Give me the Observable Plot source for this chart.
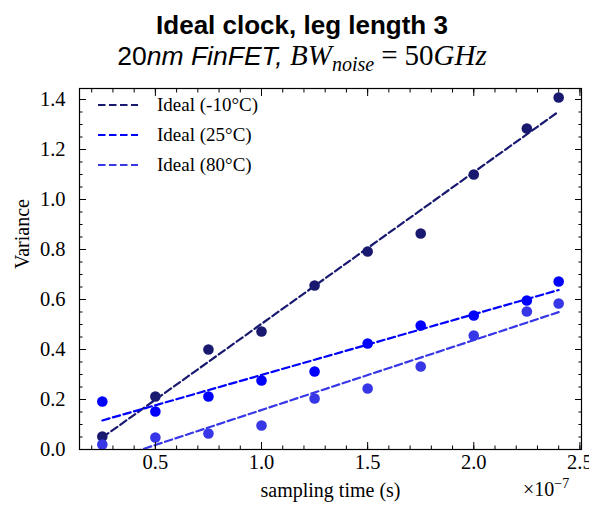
<!DOCTYPE html>
<html><head><meta charset="utf-8">
<script src="https://cdn.jsdelivr.net/npm/d3@7"></script>
<script src="https://cdn.jsdelivr.net/npm/@observablehq/plot@0.6"></script>
<style>
body{margin:0;background:#fff;}
#wrap{position:relative;width:589px;height:509px;overflow:hidden;background:#fff;}
.abs{position:absolute;white-space:nowrap;color:#000;}
#title{left:0;width:604px;text-align:center;top:12px;font:bold 26px/26px "Liberation Sans",Arial,sans-serif;}
#subtitle{left:0;width:604px;text-align:center;top:42px;font:26.5px/26px "Liberation Sans",Arial,sans-serif;}
.m{font-family:"Liberation Serif","Times New Roman",serif;font-size:29px;}
.eq{margin:0 7px;}
.leg{font:19px/20px "Liberation Serif","Times New Roman",serif;display:flex;align-items:center;}
</style></head><body><div id="wrap">
<div id="title" class="abs">Ideal clock, leg length 3</div>
<div id="subtitle" class="abs">20<i>nm FinFET,</i> <span class="m"><i>BW</i><sub style="font-size:20px;vertical-align:-6px;"><i>noise</i></sub><span class="eq">=</span>50<i>GHz</i></span></div>
<div id="offset" class="abs" style="left:523px;top:474px;font:20px/20px 'Liberation Serif',serif;">×10<sup style="font-size:14px;vertical-align:8px;">−7</sup></div>
<div id="legend"></div>
</div>
<script>
const seriesNames = ["Ideal (-10°C)", "Ideal (25°C)", "Ideal (80°C)"];
const seriesColors = ["#191970", "#0000ff", "#3737e8"];
const times = [0.25, 0.5, 0.75, 1.0, 1.25, 1.5, 1.75, 2.0, 2.25, 2.4];
const varM10 = [0.052, 0.212, 0.400, 0.472, 0.656, 0.792, 0.864, 1.100, 1.284, 1.408];
const var25  = [0.192, 0.152, 0.212, 0.276, 0.312, 0.424, 0.496, 0.536, 0.596, 0.672];
const var80  = [0.020, 0.048, 0.064, 0.096, 0.204, 0.244, 0.332, 0.456, 0.552, 0.584];
const xMajor = [0.5, 1.0, 1.5, 2.0, 2.5];
const yMajor = [0, 0.2, 0.4, 0.6, 0.8, 1.0, 1.2, 1.4];
const xMinor = d3.range(2, 26).map(d => d / 10);
const yMinor = d3.range(0, 29).map(d => d * 0.05);

const series = [varM10, var25, var80];
const data = [];
series.forEach((vals, i) => vals.forEach((v, j) => data.push({series: seriesNames[i], t: times[j], v})));

const blank = () => "";
const plot = Plot.plot({
  width: 589, height: 509,
  marginTop: 88, marginBottom: 60, marginLeft: 79, marginRight: 8,
  x: {domain: [0.1425, 2.5075]},
  y: {domain: [0, 1.444]},
  color: {domain: seriesNames, range: seriesColors},
  style: {fontFamily: "'Liberation Serif','Times New Roman',serif", fontSize: "20px", color: "black", background: "white"},
  marks: [
    Plot.linearRegressionY(data, {x: "t", y: "v", stroke: "series", ci: 0, strokeWidth: 2.2, strokeDasharray: "7.5,3.5", clip: true}),
    Plot.dot(data, {x: "t", y: "v", fill: "series", r: 5.3}),
    Plot.axisX(xMajor, {anchor: "bottom", tickSize: -7, tickPadding: 12, tickFormat: d3.format(".1f"), label: null, fontSize: 20.5}),
    Plot.axisX(xMinor, {anchor: "bottom", tickSize: -3.5, tickFormat: blank, label: null}),
    Plot.axisX(xMajor, {anchor: "top", tickSize: -7, tickFormat: blank, label: null}),
    Plot.axisX(xMinor, {anchor: "top", tickSize: -3.5, tickFormat: blank, label: null}),
    Plot.axisY(yMajor, {anchor: "left", tickSize: -7, tickPadding: 21, tickFormat: d3.format(".1f"), label: null, fontSize: 20.5}),
    Plot.axisY(yMinor, {anchor: "left", tickSize: -3.5, tickFormat: blank, label: null}),
    Plot.axisY(yMajor, {anchor: "right", tickSize: -7, tickFormat: blank, label: null}),
    Plot.axisY(yMinor, {anchor: "right", tickSize: -3.5, tickFormat: blank, label: null}),
    Plot.frame({stroke: "black", strokeWidth: 1.2}),
    Plot.text(["sampling time (s)"], {frameAnchor: "bottom", dy: 47, fontSize: 20}),
    Plot.text(["Variance"], {frameAnchor: "left", dx: -57, rotate: -90, fontSize: 20})
  ]
});
plot.style.position = "absolute";
plot.style.left = "0px";
plot.style.top = "0px";
const wrap = document.getElementById("wrap");
wrap.insertBefore(plot, wrap.firstChild);

const legend = document.getElementById("legend");
seriesNames.forEach((name, i) => {
  const row = document.createElement("div");
  row.className = "abs leg";
  row.style.left = "98px";
  row.style.top = (95 + i * 30) + "px";
  row.innerHTML = `<svg width="40" height="6" style="margin-right:19px"><line x1="0" y1="3" x2="40" y2="3" stroke="${seriesColors[i]}" stroke-width="2.2" stroke-dasharray="7.5,3.5"/></svg><span>${name}</span>`;
  legend.appendChild(row);
});
</script></body></html>
